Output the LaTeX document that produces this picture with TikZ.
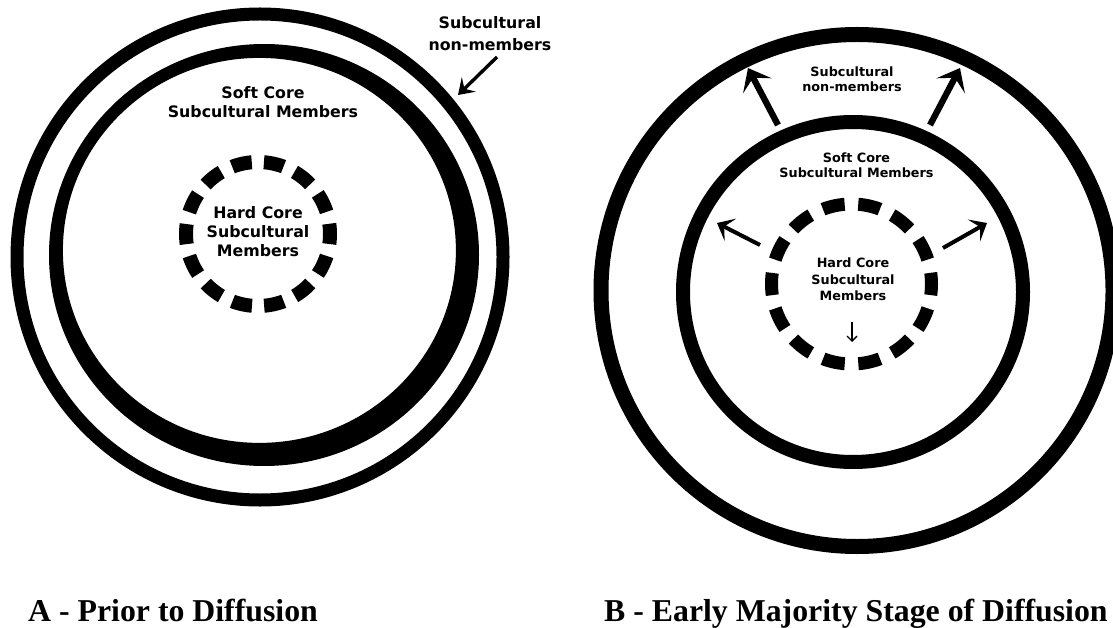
\documentclass[tikz,border=0pt]{standalone}
\usepackage{fontspec}
\usetikzlibrary{arrows.meta}
\newfontfamily\labelfont{DejaVu Sans}
\newfontfamily\captionfont{Liberation Serif}

\begin{document}
\begin{tikzpicture}[x=1pt,y=-1pt]
	\tikzstyle{Ring} = [draw=black]
	\tikzstyle{Label} = [align=center, inner sep=0pt, font=\labelfont\bfseries]
	\tikzstyle{Caption} = [anchor=base west, inner sep=0pt, font=\captionfont\bfseries\fontsize{31.8}{36}\selectfont]
	\tikzstyle{BigArrow} = [-{Stealth[length=20pt,width=32pt,inset=9pt]}, line width=6.3pt]
	\tikzstyle{MidArrow} = [-{Stealth[length=15pt,width=25pt,inset=7pt]}, line width=4pt]
	\useasboundingbox (0,0) rectangle (1113,628);
	\fill[white] (0,0) rectangle (1113,628);
	% A - prior to diffusion
	\draw[Ring, line width=13pt] (260,257) circle (243);
	\fill[even odd rule] (264,255) ellipse [x radius=215, y radius=211] (259.4,250.4) ellipse [x radius=196.5, y radius=192.5];
	\draw[Ring, line width=14pt, dash pattern=on 20.1pt off 12.2pt, dash phase=10.05pt] (258,234) circle (72);
	\node[Label, font=\labelfont\bfseries\fontsize{15.8}{22}\selectfont] (nonA) at (490,33.5) {Subcultural\\non-members};
	\node[Label, font=\labelfont\bfseries\fontsize{15.8}{19.5}\selectfont] (softA) at (263,102) {Soft Core\\Subcultural Members};
	\node[Label, font=\labelfont\bfseries\fontsize{15.8}{19}\selectfont] (hardA) at (258,231.5) {Hard Core\\Subcultural\\Members};
	\coordinate (fromA) at (497,57);
	\coordinate (ringA) at (458,95);
	\draw[-{Stealth[length=15pt,width=20pt,inset=6pt]}, line width=3.4pt] (fromA) -- (ringA);
	% B - early majority
	\draw[Ring, line width=15pt] (857,290.5) circle (256);
	\draw[Ring, line width=14pt] (853,292) circle (170);
	\draw[Ring, line width=13pt, dash pattern=on 22.3pt off 13.6pt, dash phase=11.15pt] (851.5,284) circle (80);
	\node[Label, font=\labelfont\bfseries\fontsize{12.8}{15}\selectfont] (nonB) at (852,79.5) {Subcultural\\non-members};
	\node[Label, font=\labelfont\bfseries\fontsize{12.8}{15}\selectfont] (softB) at (856.5,165.5) {Soft Core\\Subcultural Members};
	\node[Label, font=\labelfont\bfseries\fontsize{12.8}{16.7}\selectfont] (hardB) at (853,279.5) {Hard Core\\Subcultural\\Members};
	\coordinate (softTL) at (778,125);
	\coordinate (outerTL) at (748,68);
	\coordinate (softTR) at (930,125);
	\coordinate (outerTR) at (960,68);
	\coordinate (hardL) at (760,245);
	\coordinate (softL) at (717,223);
	\coordinate (hardR) at (943,248);
	\coordinate (softR) at (987,223);
	\coordinate (hardIn) at (852,322);
	\coordinate (hardDown) at (852,342);
	\draw[BigArrow] (softTL) -- (outerTL);
	\draw[BigArrow] (softTR) -- (outerTR);
	\draw[MidArrow] (hardL) -- (softL);
	\draw[MidArrow] (hardR) -- (softR);
	\draw[-{Straight Barb[length=5pt,width=10pt]}, line width=1.3pt] (hardIn) -- (hardDown);
	% captions
	\node[Caption] (capA) at (28,621) {A - Prior to Diffusion};
	\node[Caption] (capB) at (604,621) {B - Early Majority Stage of Diffusion};
\end{tikzpicture}
\end{document}
